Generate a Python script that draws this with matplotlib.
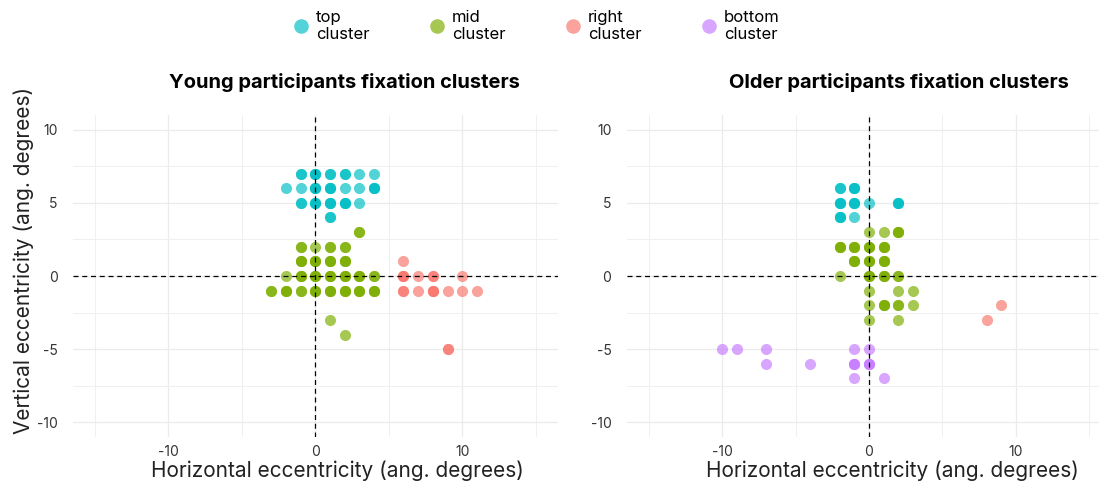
import numpy as np
import matplotlib
matplotlib.use('Agg')
import matplotlib.pyplot as plt
from matplotlib.lines import Line2D

plt.rcParams['font.family'] = ['Inter', 'DejaVu Sans']
plt.rcParams['axes.unicode_minus'] = False

# fixation positions (deg) and how many participants landed on each spot
young_top_x = [-1, 0, 1, 2, 3, 4, -2, -1, 0, 1, 2, 3, 4, -1, 0, 1, 2, 3, 1]
young_top_y = [7, 7, 7, 7, 7, 7, 6, 6, 6, 6, 6, 6, 6, 5, 5, 5, 5, 5, 4]
young_top_n = [2, 3, 2, 2, 1, 1, 1, 1, 3, 3, 1, 1, 3, 2, 3, 3, 3, 1, 2]

young_mid_x = [3, -1, 0, 1, 2, -1, 0, 1, 2, -2, -1, 0, 1, 2, 3, 4,
               -3, -2, -1, 0, 1, 2, 3, 4, 1, 2]
young_mid_y = [3, 2, 2, 2, 2, 1, 1, 1, 1, 0, 0, 0, 0, 0, 0, 0,
               -1, -1, -1, -1, -1, -1, -1, -1, -3, -4]
young_mid_n = [2, 2, 1, 2, 2, 3, 3, 3, 3, 1, 3, 3, 3, 3, 3, 2,
               2, 3, 2, 3, 3, 3, 3, 3, 1, 1]

young_right_x = [6, 6, 7, 8, 10, 6, 7, 8, 9, 10, 11, 9]
young_right_y = [1, 0, 0, 0, 0, -1, -1, -1, -1, -1, -1, -5]
young_right_n = [1, 3, 1, 2, 1, 2, 1, 3, 1, 1, 1, 2]

older_top_x = [-2, -1, -2, -1, 0, 2, -2, -1]
older_top_y = [6, 6, 5, 5, 5, 5, 4, 4]
older_top_n = [2, 3, 3, 3, 1, 3, 3, 1]

older_mid_x = [0, 1, 2, -2, -1, 0, 1, -1, 0, 1, -2, 0, 1, 2,
               0, 2, 3, 0, 1, 2, 3, 0, 2]
older_mid_y = [3, 3, 3, 2, 2, 2, 2, 1, 1, 1, 0, 0, 0, 0,
               -1, -1, -1, -2, -2, -2, -2, -3, -3]
older_mid_n = [1, 1, 3, 3, 3, 3, 3, 3, 3, 3, 1, 3, 3, 2,
               1, 1, 1, 1, 3, 2, 1, 1, 1]

older_right_x = [9, 8]
older_right_y = [-2, -3]
older_right_n = [1, 1]

older_bottom_x = [-10, -9, -7, -1, 0, -7, -4, -1, 0, -1, 1]
older_bottom_y = [-5, -5, -5, -5, -5, -6, -6, -6, -6, -7, -7]
older_bottom_n = [1, 1, 1, 1, 1, 1, 1, 3, 3, 1, 1]

cluster_names = ['top\ncluster', 'mid\ncluster', 'right\ncluster', 'bottom\ncluster']
cluster_colors = ['#00BFC4', '#7CAE00', '#F8766D', '#C77CFF']

young = [(young_top_x, young_top_y, young_top_n, 0),
         (young_mid_x, young_mid_y, young_mid_n, 1),
         (young_right_x, young_right_y, young_right_n, 2)]
older = [(older_top_x, older_top_y, older_top_n, 0),
         (older_mid_x, older_mid_y, older_mid_n, 1),
         (older_right_x, older_right_y, older_right_n, 2),
         (older_bottom_x, older_bottom_y, older_bottom_n, 3)]

W, H = 1099, 484
fig = plt.figure(figsize=(W / 100, H / 100), dpi=100)

ax_w, ax_h = 484.7 / W, 322 / H
ax1 = fig.add_axes([73 / W, (H - 437) / H, ax_w, ax_h])
ax2 = fig.add_axes([626.7 / W, (H - 437) / H, ax_w, ax_h])

alpha = 0.68


def draw_panel(ax, groups):
    for xs, ys, ns, ci in groups:
        ax.scatter(np.repeat(xs, ns), np.repeat(ys, ns), s=64,
                   color=cluster_colors[ci], alpha=alpha, linewidths=0, zorder=3)
    ax.axhline(0, color='black', lw=0.9, dashes=(4, 3), zorder=4)
    ax.axvline(0, color='black', lw=0.9, dashes=(4, 3), zorder=4)
    ax.set_xlim(-16.5, 16.5)
    ax.set_ylim(-11, 11)
    ax.set_xticks([-10, 0, 10])
    ax.set_xticklabels(['-10', '0', '10'])
    ax.set_yticks([-10, -5, 0, 5, 10])
    ax.set_yticklabels(['-10', '-5', '0', '5', '10'])
    ax.set_xticks([-15, -5, 5, 15], minor=True)
    ax.set_yticks([-7.5, -2.5, 2.5, 7.5], minor=True)
    ax.grid(which='major', color='#EBEBEB', lw=0.9, zorder=0)
    ax.grid(which='minor', color='#F0F0F0', lw=0.8, zorder=0)
    ax.tick_params(which='both', length=0, labelsize=10, labelcolor='#333333')
    ax.tick_params(axis='x', pad=6)
    ax.tick_params(axis='y', pad=11)
    for sp in ax.spines.values():
        sp.set_visible(False)
    ax.set_axisbelow(True)


draw_panel(ax1, young)
draw_panel(ax2, older)

fig.text(344 / W, 1 - 88 / H, 'Young participants fixation clusters',
         ha='center', va='baseline', fontsize=14.5, fontweight='bold')
fig.text(899 / W, 1 - 88 / H, 'Older participants fixation clusters',
         ha='center', va='baseline', fontsize=14.5, fontweight='bold')

fig.text(337 / W, 1 - 477 / H, 'Horizontal eccentricity (ang. degrees)',
         ha='center', va='baseline', fontsize=15, color='#222222')
fig.text(892 / W, 1 - 477 / H, 'Horizontal eccentricity (ang. degrees)',
         ha='center', va='baseline', fontsize=15, color='#222222')
fig.text(24 / W, 1 - 260 / H, 'Vertical eccentricity (ang. degrees)',
         ha='center', va='center', rotation=90, fontsize=15, color='#222222')

handles = [Line2D([], [], ls='none', marker='o', markersize=10.5,
                  markeredgewidth=0, color=c, alpha=alpha) for c in cluster_colors]
fig.legend(handles, cluster_names, loc='center left', ncol=4, frameon=False,
           bbox_to_anchor=(285 / W, 1 - 26 / H), fontsize=12,
           handlelength=0.9, handletextpad=0.45, columnspacing=3.6,
           labelspacing=0.2, borderpad=0)

fig.savefig('out.png', dpi=100)
